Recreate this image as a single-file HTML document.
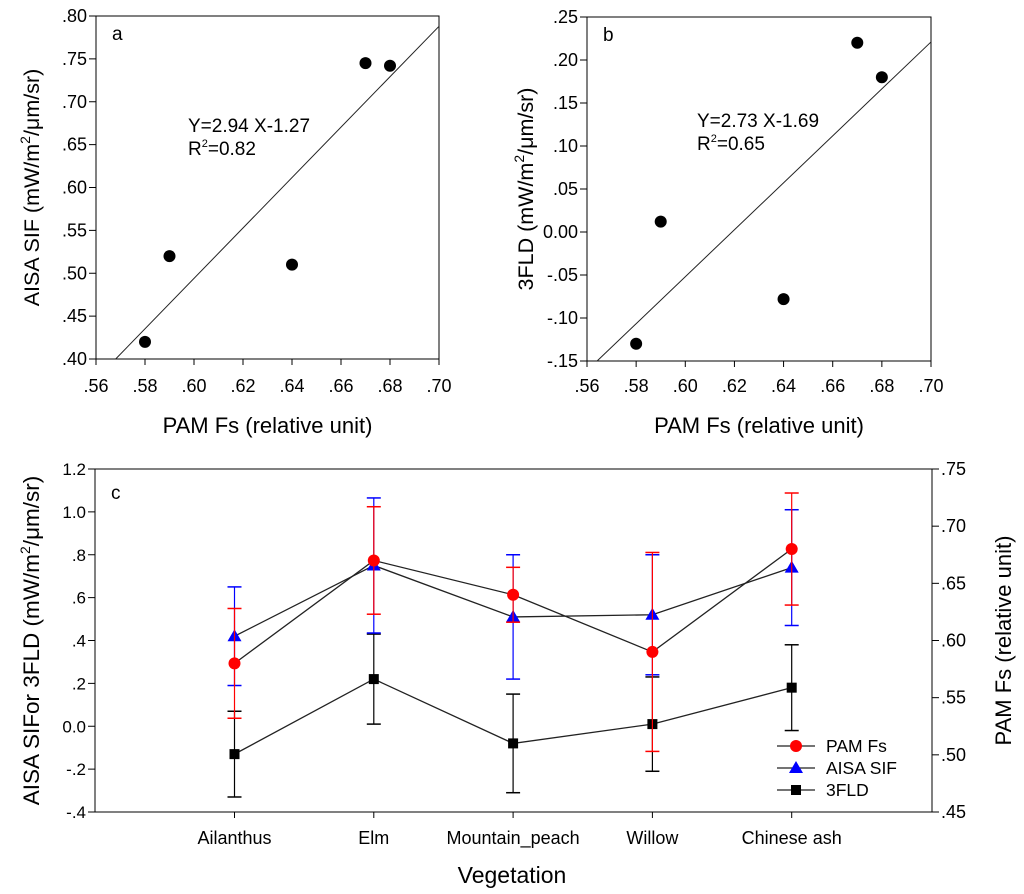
<!DOCTYPE html>
<html><head><meta charset="utf-8"><style>
html,body{margin:0;padding:0;background:#fff;}
svg{display:block;font-family:"Liberation Sans",Arial,sans-serif;}
</style></head><body>
<svg id="fig" width="1024" height="894" viewBox="0 0 1024 894" xmlns="http://www.w3.org/2000/svg"></svg>
<script>
// Panel a data
const aX = [0.58, 0.59, 0.64, 0.67, 0.68];
const aY = [0.42, 0.52, 0.51, 0.745, 0.742];
const aFit = [2.94, -1.27];
// Panel b data
const bX = [0.58, 0.59, 0.64, 0.67, 0.68];
const bY = [-0.13, 0.012, -0.078, 0.22, 0.18];
const bFit = [2.73, -1.69];
const xTicksAB = [0.56, 0.58, 0.60, 0.62, 0.64, 0.66, 0.68, 0.70];
const aYTicks = [0.40, 0.45, 0.50, 0.55, 0.60, 0.65, 0.70, 0.75, 0.80];
const bYTicks = [-0.15, -0.10, -0.05, 0.00, 0.05, 0.10, 0.15, 0.20, 0.25];
// Panel c data
const categories = ["Ailanthus", "Elm", "Mountain_peach", "Willow", "Chinese ash"];
const pamFs = [0.58, 0.67, 0.64, 0.59, 0.68];
const pamErr = [0.048, 0.047, 0.024, 0.087, 0.049];
const aisaSif = [0.42, 0.75, 0.51, 0.52, 0.74];
const aisaErr = [0.23, 0.315, 0.29, 0.28, 0.27];
const fld = [-0.13, 0.22, -0.08, 0.01, 0.18];
const fldErr = [0.20, 0.21, 0.23, 0.22, 0.20];
const cLeftTicks = [-0.4, -0.2, 0.0, 0.2, 0.4, 0.6, 0.8, 1.0, 1.2];
const cLeftLabels = ["-.4", "-.2", "0.0", ".2", ".4", ".6", ".8", "1.0", "1.2"];
const cRightTicks = [0.45, 0.50, 0.55, 0.60, 0.65, 0.70, 0.75];

const NS = "http://www.w3.org/2000/svg";
const svg = document.getElementById("fig");
function el(tag, attrs, parent, text) {
  const e = document.createElementNS(NS, tag);
  for (const k in attrs) e.setAttribute(k, attrs[k]);
  if (text !== undefined) e.textContent = text;
  (parent || svg).appendChild(e);
  return e;
}
function fmt2(v) {
  let s = Math.abs(v).toFixed(2);
  if (s === "0.00") return "0.00";
  s = s.replace(/^0/, "");
  return (v < 0 ? "-" : "") + s;
}
function lin(d0, d1, r0, r1) { return v => r0 + (v - d0) / (d1 - d0) * (r1 - r0); }

function scatterPanel(name, L, R, T, B, xs, ys, fit, yTicks, letter, eqText, r2Text, eqX, eqY, yTitle, yTitleX) {
  const g = el("g", {});
  
  
  const sx = lin(0.56, 0.70, L, R);
  const sy = lin(yTicks[0], yTicks[yTicks.length - 1], B, T);
  const frame = el("rect", {x: L, y: T, width: R - L, height: B - T, fill: "none", stroke: "#000", "stroke-width": 1}, g);
  
  
  xTicksAB.forEach(t => {
    const x = sx(t);
    el("line", {x1: x, y1: B, x2: x, y2: B + 6, stroke: "#000"}, g);
    const lb = el("text", {x: x, y: 392, "font-size": 18, "text-anchor": "middle"}, g, fmt2(t));
    
    
  });
  yTicks.forEach(t => {
    const y = sy(t);
    el("line", {x1: L - 7, y1: y, x2: L, y2: y, stroke: "#000"}, g);
    const lb = el("text", {x: L - 9, y: y + 6, "font-size": 18, "text-anchor": "end"}, g, fmt2(t));
    
    
  });
  const y0 = yTicks[0], y1 = yTicks[yTicks.length - 1];
  let xa = 0.56, xb = 0.70;
  let ya = fit[0] * xa + fit[1], yb = fit[0] * xb + fit[1];
  if (ya < y0) { xa = (y0 - fit[1]) / fit[0]; ya = y0; }
  if (yb > y1) { xb = (y1 - fit[1]) / fit[0]; yb = y1; }
  const fl = el("line", {x1: sx(xa), y1: sy(ya), x2: sx(xb), y2: sy(yb), stroke: "#222", "stroke-width": 1}, g);
  
  
  xs.forEach((v, i) => {
    const c = el("circle", {cx: sx(v), cy: sy(ys[i]), r: 6, fill: "#000"}, g);
    
    
  });
  const lt = el("text", {x: L + 16, y: T + 24, "font-size": 19}, g, letter);
  
  
  const eq = el("text", {x: eqX, y: eqY, "font-size": 19}, g, eqText);
  
  
  const r2 = el("text", {x: eqX, y: eqY + 23, "font-size": 19}, g);
  
  
  el("tspan", {}, r2, "R");
  el("tspan", {"font-size": 11, dy: -8}, r2, "2");
  el("tspan", {dy: 8}, r2, r2Text);
  const xt = el("text", {x: (L + R) / 2, y: 433, "font-size": 22, "text-anchor": "middle"}, g, "PAM Fs (relative unit)");
  
  
  const cy = (T + B) / 2;
  const yt = el("text", {x: yTitleX, y: cy, "font-size": 21.5, "text-anchor": "middle", transform: `rotate(-90 ${yTitleX} ${cy})`}, g);
  
  
  el("tspan", {}, yt, yTitle + " (mW/m");
  el("tspan", {"font-size": 14, dy: -9}, yt, "2");
  el("tspan", {dy: 9}, yt, "/\u03BCm/sr)");
}

scatterPanel("panel-a", 96, 439, 16, 359, aX, aY, aFit, aYTicks, "a", "Y=2.94 X-1.27", "=0.82", 188, 132, "AISA SIF", 39);
scatterPanel("panel-b", 587, 931, 17, 361, bX, bY, bFit, bYTicks, "b", "Y=2.73 X-1.69", "=0.65", 697, 127, "3FLD", 533);

// Panel c
(function () {
  const L = 95, R = 932, T = 469, B = 812;
  const g = el("g", {});
  
  
  const syL = lin(-0.4, 1.2, B, T);
  const syR = lin(0.45, 0.75, B, T);
  const x0 = 234.5, dx = 139.3;
  const sx = i => x0 + i * dx;
  const frame = el("rect", {x: L, y: T, width: R - L, height: B - T, fill: "none", stroke: "#000"}, g);
  
  
  cLeftTicks.forEach((t, i) => {
    const y = syL(t);
    el("line", {x1: L - 7, y1: y, x2: L, y2: y, stroke: "#000"}, g);
    const lb = el("text", {x: L - 9, y: y + 6, "font-size": 17, "text-anchor": "end"}, g, cLeftLabels[i]);
    
    
  });
  cRightTicks.forEach(t => {
    const y = syR(t);
    el("line", {x1: R, y1: y, x2: R + 7, y2: y, stroke: "#000"}, g);
    const lb = el("text", {x: R + 9, y: y + 6, "font-size": 18}, g, fmt2(t));
    
    
  });
  categories.forEach((c, i) => {
    el("line", {x1: sx(i), y1: B, x2: sx(i), y2: B + 6, stroke: "#000"}, g);
    const lb = el("text", {x: sx(i), y: 844, "font-size": 18, "text-anchor": "middle"}, g, c);
    
    
  });
  function errbar(x, yc, yt, yb, color) {
    el("line", {x1: x, y1: yt, x2: x, y2: yb, stroke: color, "stroke-width": 1.2}, g);
    el("line", {x1: x - 7, y1: yt, x2: x + 7, y2: yt, stroke: color, "stroke-width": 1.5}, g);
    el("line", {x1: x - 7, y1: yb, x2: x + 7, y2: yb, stroke: color, "stroke-width": 1.5}, g);
  }
  function series(vals, errs, sy, color, shape, name) {
    vals.forEach((v, i) => errbar(sx(i), sy(v), sy(v + errs[i]), sy(v - errs[i]), color));
    const pts = vals.map((v, i) => sx(i) + "," + sy(v)).join(" ");
    const pl = el("polyline", {points: pts, fill: "none", stroke: "#222", "stroke-width": 1.3}, g);
    
    
    vals.forEach((v, i) => {
      const m = marker(sx(i), sy(v), shape, color);
      
      
    });
  }
  function marker(x, y, shape, color) {
    if (shape === "circle") return el("circle", {cx: x, cy: y, r: 6, fill: color}, g);
    if (shape === "tri") return el("polygon", {points: `${x},${y - 7} ${x - 7},${y + 5} ${x + 7},${y + 5}`, fill: color}, g);
    return el("rect", {x: x - 5, y: y - 5, width: 10, height: 10, fill: color}, g);
  }
  series(fld, fldErr, syL, "#000", "sq", "3fld");
  series(aisaSif, aisaErr, syL, "#0000ff", "tri", "aisa-sif");
  series(pamFs, pamErr, syR, "#ff0000", "circle", "pam-fs");
  const lt = el("text", {x: L + 16, y: T + 30, "font-size": 19}, g, "c");
  
  
  const leg = [["PAM Fs", "circle", "#ff0000", 746], ["AISA SIF", "tri", "#0000ff", 768], ["3FLD", "sq", "#000", 790]];
  leg.forEach(([t, s, c, y]) => {
    const lg = el("g", {}, g);
    
    
    el("line", {x1: 777, y1: y, x2: 815, y2: y, stroke: "#222", "stroke-width": 1.3}, lg);
    const m = marker(796, y, s, c); lg.appendChild(m);
    el("text", {x: 826, y: y + 6, "font-size": 17.5}, lg, t);
  });
  const xt = el("text", {x: 512, y: 883, "font-size": 23, "text-anchor": "middle"}, g, "Vegetation");
  
  
  const cy = (T + B) / 2;
  const yt = el("text", {x: 39, y: cy, "font-size": 22.5, "text-anchor": "middle", transform: `rotate(-90 39 ${cy})`}, g);
  
  
  el("tspan", {}, yt, "AISA SIFor 3FLD (mW/m");
  el("tspan", {"font-size": 14, dy: -9}, yt, "2");
  el("tspan", {dy: 9}, yt, "/\u03BCm/sr)");
  const ry = el("text", {x: 1011, y: cy, "font-size": 22, "text-anchor": "middle", transform: `rotate(-90 1011 ${cy})`}, g, "PAM Fs (relative unit)");
  
  
})();
</script>
</body></html>
